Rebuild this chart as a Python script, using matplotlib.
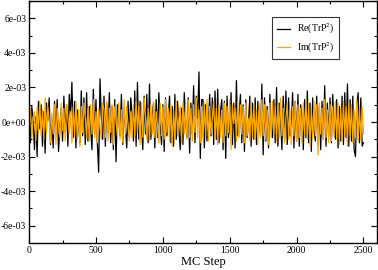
import matplotlib
matplotlib.use("Agg")
import matplotlib.pyplot as plt
import numpy as np
from matplotlib.ticker import MultipleLocator, FuncFormatter

# MC trace of Tr P^2, one value every 10 steps, in units of 1e-4
steps = np.arange(0, 2501, 10)

re_trp2 = [
    5, -12, 9, 2, -16, 3, -20, 12, -4, 10,
    -14, 6, -18, 11, 1, 14, -13, 2, -15, 12,
    -7, 13, -17, -3, 8, -11, 15, -6, 10, -14,
    16, 4, 23, -9, 12, -15, 7, -2, -12, 18,
    -8, 14, -13, 17, -11, 9, -4, -16, 19, -7,
    13, -12, -29, 25, 3, -10, 15, -14, 11, -6,
    17, -12, 9, -16, 13, -23, 10, 2, -8, 16,
    -13, 7, -3, -15, 12, -9, 14, 5, -11, 18,
    -14, 23, -10, 12, -2, -16, 15, -7, 16, -12,
    22, -10, 4, 11, -15, 13, -9, 17, -1, -13,
    10, -17, 14, -8, 3, 15, -12, 9, -14, 16,
    -10, 12, -4, -16, 8, -13, 17, 1, -9, 14,
    -18, 11, -7, 21, -12, 15, 2, 29, -21, 13,
    13, -15, 10, -11, -3, 16, -8, 14, -13, 18,
    -10, 19, -12, 5, 13, -16, 12, -21, 15, -9,
    -2, 17, -13, 11, -15, 24, -8, 4, 16, -12,
    10, -17, 13, -9, -1, 15, -14, 11, -10, 14,
    -13, 12, 3, -8, 22, -19, 14, -11, 9, -15,
    16, -4, -9, 13, -12, 20, -14, 11, 2, -16,
    15, -10, 18, -13, 14, -8, -2, 17, -15, 12,
    -11, 16, -14, 10, 3, -16, 13, -9, 18, -12,
    11, -17, 14, -5, -11, 15, -13, 9, -16, 12,
    -10, 21, -14, 11, -8, 14, -12, 16, -3, -10,
    13, -15, 9, -11, 15, -13, 17, -9, 22, -14,
    13, -11, 15, -16, -20, 10, 17, -12, 14, -14,
    -12,
]

im_trp2 = [
    -3, 8, -9, 2, 6, -11, 9, -5, 12, -8,
    7, -10, 14, -6, 9, 1, -12, 5, -7, 10,
    -13, 8, -2, -9, 11, -5, 8, -11, 10, 3,
    -7, 6, -12, 9, -8, 12, -10, 7, -14, 9,
    -6, 11, 2, -9, 8, -11, 10, -7, 13, -9,
    6, -12, 8, -3, -10, 11, 7, -9, 12, -11,
    8, -6, 10, -13, 9, 1, -8, 11, -10, 7,
    -12, 13, -7, 9, -2, -11, 6, -9, 10, -8,
    12, -6, 9, -13, 11, -9, 14, 3, -10, 8,
    -11, 10, -7, 12, -9, 6, -2, -12, 11, -8,
    9, -10, 13, -6, 8, -11, 10, -14, 7, -9,
    12, -8, 2, 9, -12, 11, -7, 10, -10, 13,
    -9, 8, -11, 10, -6, 14, -9, 7, -12, 9,
    -10, 11, -8, 13, -11, 9, -7, 3, 12, -10,
    8, -13, 10, -9, 7, -12, 11, -8, 9, -6,
    13, -16, 10, -1, 8, -11, 12, -9, 10, -7,
    9, -12, 11, -8, 2, -11, 12, -9, 10, -10,
    7, -13, 11, -9, 13, -8, 10, -10, 7, -13,
    11, -9, 12, -7, 9, -11, 10, -9, 14, -8,
    8, -12, 2, 11, -10, 7, -13, 9, -8, 12,
    -11, 10, -9, 8, -12, 11, -7, 13, -10, 9,
    -14, 7, -9, 12, -8, 10, -19, 11, -7, 8,
    -10, 13, -9, 7, -12, 10, -11, 9, -8, 12,
    -10, 11, -13, 8, -10, 12, -7, 9, -14, 11,
    -8, 10, -12, 7, -9, 13, -11, 8, -10, 9,
    -7,
]

plt.rcParams["font.family"] = ["Liberation Serif", "DejaVu Serif"]
plt.rcParams["mathtext.fontset"] = "stix"

fig = plt.figure(figsize=(3.78, 2.70), dpi=100)
ax = fig.add_axes([0.077, 0.10, 0.920, 0.896])

ax.plot(steps, np.array(re_trp2) * 1e-4, color="black", linewidth=0.9,
        label="Re(TrP$^2$)")
ax.plot(steps, np.array(im_trp2) * 1e-4, color="#FFA500", linewidth=0.9,
        label="Im(TrP$^2$)")

ax.set_xlim(0, 2600)
ax.set_ylim(-7e-3, 7e-3)
ax.xaxis.set_major_locator(MultipleLocator(500))
ax.xaxis.set_minor_locator(MultipleLocator(250))
ax.yaxis.set_major_locator(MultipleLocator(2e-3))
ax.yaxis.set_minor_locator(MultipleLocator(1e-3))
ax.yaxis.set_major_formatter(FuncFormatter(lambda v, p: f"{v:.0e}"))

ax.tick_params(which="both", direction="in", top=True, right=True,
               labelsize=7, width=0.8, pad=2)
ax.tick_params(which="major", length=4)
ax.tick_params(which="minor", length=2)
for s in ax.spines.values():
    s.set_linewidth(1.0)

ax.set_xlabel("MC Step", fontsize=9, labelpad=1)

leg = ax.legend(loc="upper left", bbox_to_anchor=(0.698, 0.934), fontsize=7,
                frameon=True, fancybox=False, edgecolor="black",
                handlelength=1.35, borderpad=0.5, labelspacing=0.4,
                handletextpad=0.7, borderaxespad=0)
leg.get_frame().set_linewidth(0.8)

fig.savefig("out.png", dpi=100)
